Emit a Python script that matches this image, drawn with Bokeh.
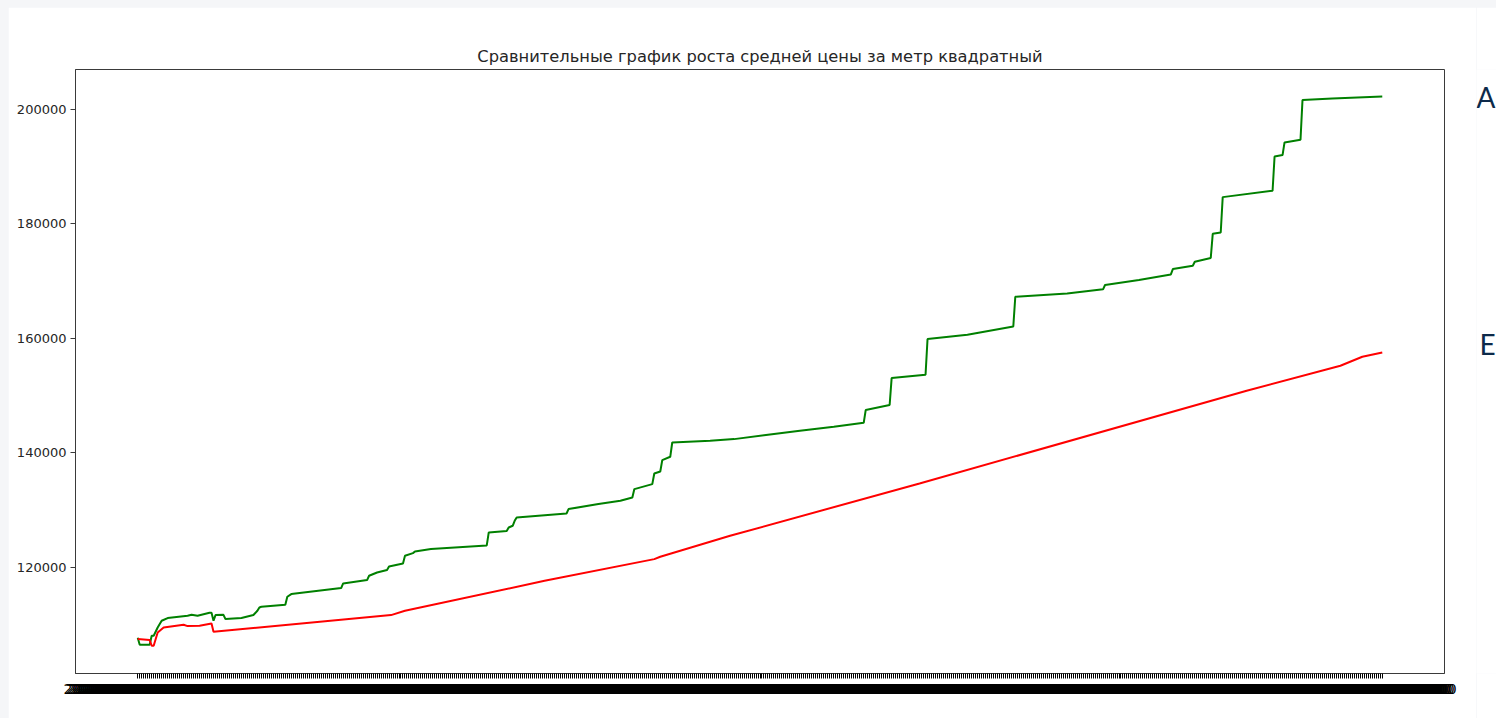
import pandas as pd
from bokeh.plotting import figure
from bokeh.layouts import row
from bokeh.models import Range1d, FixedTicker, NumeralTickFormatter
from bokeh.core.properties import value
from bokeh.embed import file_html
from bokeh.resources import INLINE

# ---- data -------------------------------------------------------------
n_dates = 625
dates = [d.strftime("%Y-%m-%d %H:%M:%S")
         for d in pd.date_range("2020-01-01", periods=n_dates, freq="D")]

# green series (step-like)
green_idx = [0, 1, 6, 7, 8, 10, 12, 15, 25, 27, 30, 36, 37, 38, 39, 43, 44,
             52, 58, 60, 61, 62, 74, 75, 77, 102, 103, 115, 116, 120, 125,
             126, 133, 134, 138, 139, 147, 175, 176, 185, 186, 188, 189, 190,
             215, 216, 231, 242, 248, 249, 258, 259, 262, 263, 267, 268,
             287, 299, 316, 332, 349, 364, 365, 377, 378, 395, 396, 416,
             439, 440, 466, 484, 485, 502, 518, 519, 529, 530, 538, 539,
             543, 544, 569, 570, 574, 575, 583, 584, 599, 624]
green_val = [107730, 106510, 106510, 108080, 108080, 109530, 110700, 111170,
             111570, 111740, 111570, 112100, 112100, 110700, 111700, 111740,
             110990, 111170, 111700, 112440, 113020, 113140, 113490, 114890,
             115360, 116400, 117210, 117800, 118550, 119130, 119550, 120170,
             120700, 122040, 122510, 122790, 123210, 123850, 126110, 126350,
             126980, 127280, 128150, 128730, 129420, 130190, 131060, 131640,
             132220, 133680, 134550, 136400, 136750, 138740, 139320, 141810,
             142100, 142400, 143160, 143850, 144550, 145250, 147470, 148360,
             153050, 153630, 159860, 160610, 162060, 167240, 167810, 168540,
             169300, 170150, 171140, 172070, 172650, 173350, 174000, 178230,
             178460, 184630, 185740, 191720, 191970, 194170, 194640, 201560,
             201840, 202190]

# red series (smooth)
red_idx = [0, 6, 7, 8, 10, 13, 23, 25, 31, 37, 38, 127, 134, 204, 259, 262,
           297, 392, 556, 603, 614, 624]
red_val = [107510, 107330, 106340, 106340, 108660, 109530, 110000, 109770,
           109830, 110230, 108780, 111690, 112440, 117680, 121460, 121870,
           125530, 134660, 150840, 155200, 156770, 157520]

y_ticks = [120000, 140000, 160000, 180000, 200000]
title_text = "Сравнительные график роста средней цены за метр квадратный"
side_letters = ["А", "Е"]

# ---- main figure ------------------------------------------------------
span = n_dates - 1
p = figure(width=1468, height=711, output_backend="svg", toolbar_location=None,
           x_range=Range1d(-0.05 * span, 1.05 * span),
           y_range=Range1d(101500, 206900),
           min_border_left=67, min_border_right=32,
           min_border_top=62, min_border_bottom=45,
           title=title_text)

p.background_fill_color = "white"
p.border_fill_color = "white"
p.xgrid.visible = False
p.ygrid.visible = False
p.outline_line_color = "#3a3a3a"
p.outline_line_width = 1

p.title.align = "center"
p.title.text_font = "DejaVu Sans"
p.title.text_font_size = "16.3px"
p.title.text_font_style = "normal"
p.title.text_color = "#262626"
p.title.standoff = 8

xa = p.xaxis[0]
xa.ticker = FixedTicker(ticks=list(range(n_dates)), minor_ticks=[])
xa.major_label_overrides = {i: dates[i] for i in range(n_dates)}
xa.major_tick_out = 5
xa.major_tick_in = 0
xa.major_tick_line_color = "black"
xa.minor_tick_line_color = None
xa.axis_line_color = "#3a3a3a"
xa.major_label_standoff = 2
xa.major_label_text_font = "DejaVu Sans"
xa.major_label_text_font_size = "14px"
xa.major_label_text_color = "black"

ya = p.yaxis[0]
ya.ticker = FixedTicker(ticks=y_ticks, minor_ticks=[])
ya.formatter = NumeralTickFormatter(format="0")
ya.major_tick_out = 5
ya.major_tick_in = 0
ya.major_tick_line_color = "#3a3a3a"
ya.minor_tick_line_color = None
ya.axis_line_color = "#3a3a3a"
ya.major_label_standoff = 4
ya.major_label_text_font = "DejaVu Sans"
ya.major_label_text_font_size = "13px"
ya.major_label_text_color = "#262626"

p.line(green_idx, green_val, line_color="#008000", line_width=2)
p.line(red_idx, red_val, line_color="#ff0000", line_width=2)

# ---- cut-off side text of the surrounding page --------------------------
# frame of this strip has the same vertical extent as the main frame,
# y range = pixel offsets above the frame bottom
side = figure(width=20, height=711, output_backend="svg", toolbar_location=None,
              x_axis_location=None, y_axis_location=None,
              x_range=Range1d(0, 20), y_range=Range1d(0, 604),
              min_border_left=0, min_border_right=0,
              min_border_top=62, min_border_bottom=45)
side.xgrid.visible = False
side.ygrid.visible = False
side.outline_line_color = None
side.background_fill_color = "white"
side.border_fill_color = "white"
side.text(x=[0, 3], y=[577, 330], text=side_letters,
          text_font=value("Lato"), text_font_size="28px",
          text_color="#0d2a4a", text_baseline="alphabetic", text_align="left")

layout = row(p, side, spacing=0)

html = file_html(layout, INLINE)
html = html.replace(
    "</head>",
    "<style>html,body{background:#f5f6f8 !important;}"
    "body{padding:7px 0 0 8px !important;margin:0 !important;}</style></head>", 1)
open("out.html", "w").write(html)
